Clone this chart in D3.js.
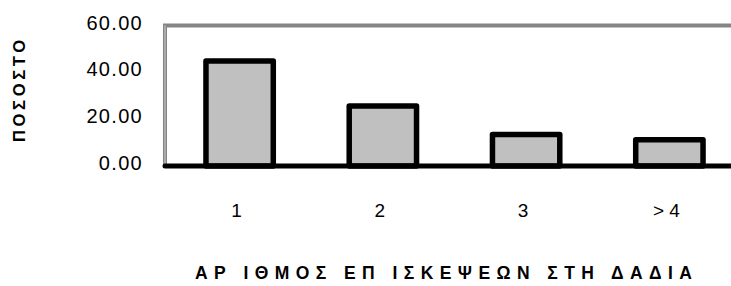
<!DOCTYPE html>
<html>
<head>
<meta charset="utf-8">
<script src="https://cdn.jsdelivr.net/npm/d3@7"></script>
<style>
body { margin: 0; background: #fff; }
text { font-family: "Liberation Sans", Arial, sans-serif; }
</style>
</head>
<body>
<svg width="731" height="286"></svg>
<script>
var categories = ["1", "2", "3", "> 4"];
var values = [44.8, 25.6, 13.4, 11.2];
var yTicks = [0, 20, 40, 60];

var svg = d3.select("svg"),
width = +svg.attr("width"),
height = +svg.attr("height");

var plotLeft = 165, plotRight = 741, plotTop = 25.5, plotBottom = 166;

var x = d3.scaleBand()
.domain(categories)
.range([plotLeft + 3, plotRight])
.paddingInner(0.53)
.paddingOuter(0.265);

var y = d3.scaleLinear()
.domain([0, 60])
.range([plotBottom, plotTop]);

// back wall frame (top + left)
svg.append("path")
.attr("d", "M" + plotLeft + "," + plotBottom + "V" + plotTop + "H" + (width + 5))
.attr("fill", "none")
.attr("stroke", "#858585")
.attr("stroke-width", 4);
svg.append("path")
.attr("d", "M" + plotLeft + "," + plotBottom + "V" + plotTop)
.attr("fill", "none")
.attr("stroke", "#cfcfcf")
.attr("stroke-width", 1);

// bars
svg.append("g")
.selectAll("rect")
.data(values)
.enter().append("rect")
.attr("x", function(d, i) { return x(categories[i]); })
.attr("width", x.bandwidth())
.attr("y", function(d) { return y(d); })
.attr("height", function(d) { return y(0) - y(d); })
.attr("fill", "#c0c0c0")
.attr("stroke", "#000")
.attr("stroke-width", 5.5)
.attr("stroke-linejoin", "round");

// category axis line
svg.append("line")
.attr("x1", plotLeft)
.attr("x2", width + 5)
.attr("y1", y(0))
.attr("y2", y(0))
.attr("stroke", "#000")
.attr("stroke-width", 5)
.attr("stroke-linecap", "round");

// y tick labels
svg.append("g")
.selectAll("text")
.data(yTicks)
.enter().append("text")
.attr("x", 143)
.attr("y", function(d) { return y(d) - 3; })
.attr("dy", "0.35em")
.attr("text-anchor", "end")
.style("font-size", "20px")
.style("letter-spacing", "1.3px")
.text(function(d) { return d3.format(".2f")(d); });

// x tick labels
svg.append("g")
.selectAll("text")
.data(categories)
.enter().append("text")
.attr("x", function(d) { return x(d) + x.bandwidth() / 2 - 3; })
.attr("y", 210)
.attr("dy", "0.35em")
.attr("text-anchor", "middle")
.style("font-size", "19px")
.text(function(d) { return d; });

// axis titles
svg.append("text")
.attr("x", 195)
.attr("y", 273)
.attr("dy", "0.35em")
.attr("textLength", 497)
.attr("lengthAdjust", "spacing")
.style("font-size", "17.5px")
.style("font-weight", "bold")
.text("ΑΡ ΙΘΜΟΣ ΕΠ ΙΣΚΕΨΕΩΝ ΣΤΗ ΔΑΔΙΑ");

svg.append("text")
.attr("transform", "translate(19,142) rotate(-90)")
.attr("dy", "0.35em")
.attr("textLength", 102)
.attr("lengthAdjust", "spacing")
.style("font-size", "16.5px")
.style("font-weight", "bold")
.text("ΠΟΣΟΣΤΟ");
</script>
</body>
</html>
